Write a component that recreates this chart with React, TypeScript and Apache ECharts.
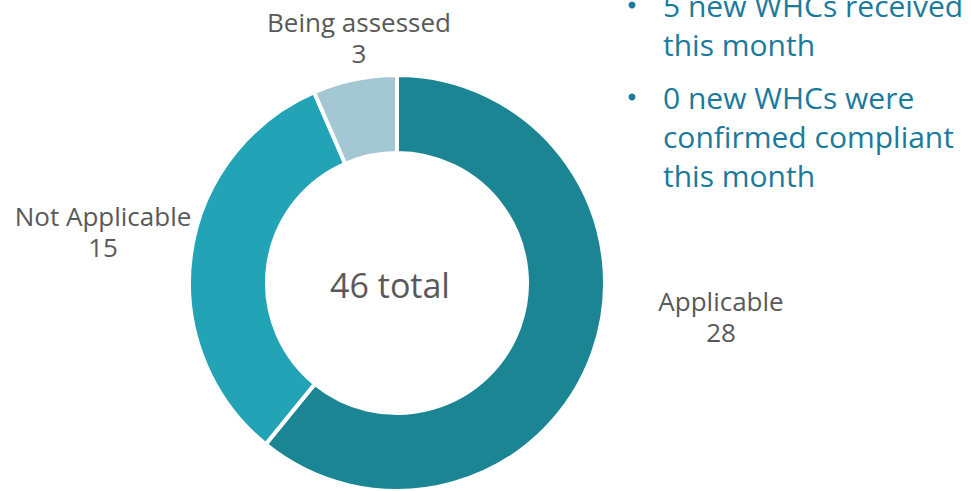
import React, { useEffect, useRef } from "react";
import * as echarts from "echarts";

const categories = ["Applicable", "Not Applicable", "Being assessed"];
const values = [28, 15, 3];
const centerLabel = "46 total";
const bullets = [
  ["5 new WHCs received", "this month"],
  ["0 new WHCs were", "confirmed compliant", "this month"],
];

const colors = ["#1b8594", "#23a3b6", "#a3c8d3"];
const labelPos: Record<number, [number, number]> = {
  0: [721, 316],
  1: [103, 231],
  2: [359, 37],
};
const FONT = "'Open Sans', 'Noto Sans', sans-serif";
const LH = 39;

export default function App() {
  const ref = useRef<HTMLDivElement>(null);
  useEffect(() => {
    if (!ref.current) return;
    const chart = echarts.init(ref.current, null, { renderer: "svg" });
    const graphics: any[] = [];
    const starts = [5, 97];
    bullets.forEach((para, i) => {
      const y = starts[i];
      graphics.push({
        type: "circle",
        shape: { cx: 632, cy: y, r: 3.5 },
        style: { fill: "#1b7a9c" },
      });
      graphics.push({
        type: "text",
        x: 663,
        y: y - LH / 2,
        style: {
          text: para.join("\n"),
          fill: "#1b7a9c",
          font: `30px ${FONT}`,
          lineHeight: LH,
          verticalAlign: "top",
          align: "left",
        },
      });
    });
    graphics.push({
      type: "text",
      x: 390,
      y: 285,
      style: {
        text: centerLabel,
        fill: "#595959",
        font: `34px ${FONT}`,
        align: "center",
        verticalAlign: "middle",
      },
    });
    chart.setOption({
      animation: false,
      backgroundColor: "#ffffff",
      graphic: graphics,
      series: [
        {
          type: "pie",
          center: [397, 283],
          radius: [130, 208],
          startAngle: 90,
          clockwise: true,
          color: colors,
          itemStyle: { borderColor: "#ffffff", borderWidth: 4 },
          label: {
            show: true,
            position: "outside",
            formatter: "{b}\n{c}",
            color: "#595959",
            fontSize: 26,
            fontFamily: FONT,
            lineHeight: 31,
            align: "center",
            overflow: "none",
            width: 300,
          },
          labelLine: { show: false },
          labelLayout: (params: any) => {
            const p = labelPos[params.dataIndex];
            return { x: p[0], y: p[1], align: "center", verticalAlign: "middle" };
          },
          data: categories.map((name, i) => ({ name, value: values[i] })),
        },
      ],
    });
    return () => chart.dispose();
  }, []);
  return (
    <div
      ref={ref}
      style={{ position: "absolute", left: 0, top: 0, width: 971, height: 491 }}
    />
  );
}
